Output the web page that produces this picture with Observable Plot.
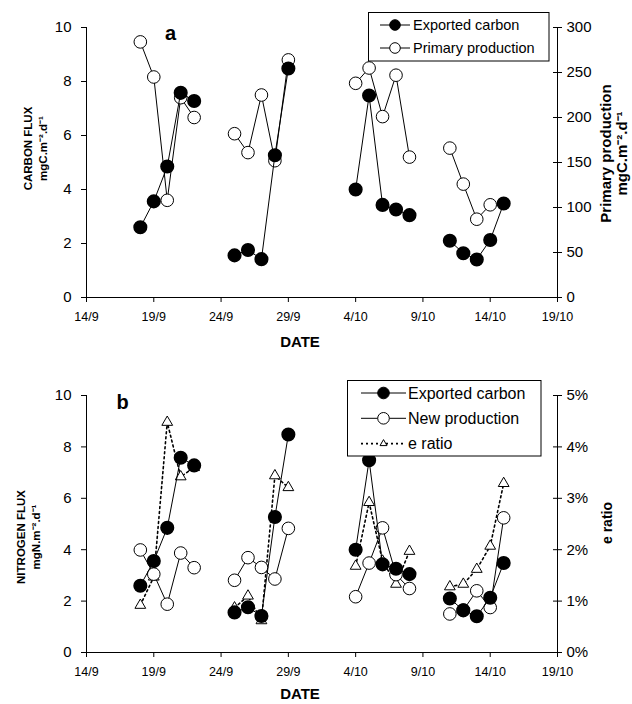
<!DOCTYPE html>
<html>
<head>
<meta charset="utf-8">
<script src="https://cdn.jsdelivr.net/npm/d3@7"></script>
<script src="https://cdn.jsdelivr.net/npm/@observablehq/plot@0.6"></script>
<style>
  body { margin: 0; background: #fff; }
  #wrap { position: relative; width: 632px; height: 704px; font-family: "Liberation Sans", Arial, sans-serif; }
  #wrap svg { display: block; }
  .legend { position: absolute; }
</style>
</head>
<body>
<div id="wrap"></div>
<script>
// ---- data ----
const dates = ["18/9","19/9","20/9","21/9","22/9","25/9","26/9","27/9","28/9","29/9","4/10","5/10","6/10","7/10","8/10","11/10","12/10","13/10","14/10","15/10"];
const cruise = [1,1,1,1,1,2,2,2,2,2,3,3,3,3,3,4,4,4,4,4];
const exportedCarbon = [2.6,3.56,4.85,7.58,7.28, 1.56,1.76,1.42,5.27,8.48, 4.0,7.48,3.43,3.26,3.05, 2.1,1.64,1.41,2.13,3.48];
const primaryProduction = [284,245,108,222,200, 182,161,225,152,264, 238,255,201,247,156, 166,126,87,103,null];
const newProduction = [3.99,3.05,1.88,3.87,3.30, 2.81,3.69,3.31,2.86,4.83, 2.17,3.48,4.85,3.03,2.49, 1.50,1.65,2.40,1.75,5.24];
const eRatio = [0.92,1.47,4.48,3.42,3.6, 0.87,1.1,0.62,3.44,3.21, 1.68,2.92,1.78,1.33,1.97, 1.28,1.33,1.62,2.07,3.29];
const xTickLabels = ["14/9","19/9","24/9","29/9","4/10","9/10","14/10","19/10"];
const fluxTicks = [0,2,4,6,8,10];
const ppTicks = [0,50,100,150,200,250,300];
const ratioTicks = [0,1,2,3,4,5];

// ---- helpers ----
const parseDM = s => { const [d, m] = s.split("/").map(Number); return new Date(Date.UTC(2000, m - 1, d)); };
const fmtDM = d => `${d.getUTCDate()}/${d.getUTCMonth() + 1}`;
const rows = dates.map((s, i) => ({
  date: parseDM(s), cruise: cruise[i], ec: exportedCarbon[i], pp: primaryProduction[i],
  np: newProduction[i], er: eRatio[i]
}));
const xTicks = xTickLabels.map(parseDM);
const xDomain = [xTicks[0], xTicks[xTicks.length - 1]];
const FONT = "'Liberation Sans', Arial, sans-serif";
const W = 632;
const mL = 86, mR = 75;
const innerW = W - mL - mR;

function frameMarks() {
  return [
    Plot.ruleX([xDomain[0]], {stroke: "black", strokeWidth: 1}),
    Plot.ruleX([xDomain[1]], {stroke: "black", strokeWidth: 1}),
    Plot.ruleY([0], {stroke: "black", strokeWidth: 1}),
    Plot.axisX({ticks: xTicks, tickFormat: fmtDM, tickSize: 5, tickPadding: 10, fontSize: 12.5, label: null}),
    Plot.axisY({anchor: "left", ticks: fluxTicks, tickSize: 5, tickPadding: 10, fontSize: 15, label: null})
  ];
}

function rightAxis(ticksInY, fmt) {
  return [
    Plot.axisY({anchor: "right", ticks: ticksInY, tickFormat: fmt, tickSize: 4, tickPadding: 5, fontSize: 15, label: null}),
    Plot.tickY(ticksInY, {y: d => d, stroke: "black", insetLeft: innerW - 4})
  ];
}

const T = (s, o) => Plot.text([s], {text: d => d, textAnchor: "middle", lineAnchor: "middle", fontWeight: "bold", ...o});

// ---- Panel a ----
const plotA = Plot.plot({
  width: W, height: 352,
  marginLeft: mL, marginRight: mR, marginTop: 27, marginBottom: 55,
  style: {fontFamily: FONT, color: "black", background: "white", overflow: "visible"},
  x: {type: "utc", domain: xDomain},
  y: {domain: [0, 10]},
  marks: [
    ...frameMarks(),
    ...rightAxis(ppTicks.map(v => v / 30), d => Math.round(d * 30)),
    Plot.line(rows, {x: "date", y: d => d.pp == null ? NaN : d.pp / 30, z: "cruise", stroke: "black", strokeWidth: 1}),
    Plot.dot(rows.filter(d => d.pp != null), {x: "date", y: d => d.pp / 30, r: 6.3, fill: "white", stroke: "black", strokeWidth: 1}),
    Plot.line(rows, {x: "date", y: "ec", z: "cruise", stroke: "black", strokeWidth: 1}),
    Plot.dot(rows, {x: "date", y: "ec", r: 6.3, fill: "black", stroke: "black"}),
    T("a", {frameAnchor: "top-left", dx: 84, dy: 6, fontSize: 20}),
    T("CARBON FLUX\nmgC.m\u207B\u00B2.d\u207B\u00B9", {frameAnchor: "left", rotate: -90, dx: -51.5, dy: -14, fontSize: 11.5, lineHeight: 1.3}),
    T("Primary production\nmgC.m\u207B\u00B2.d\u207B\u00B9", {frameAnchor: "right", rotate: -90, dx: 56, dy: -9, fontSize: 15, lineHeight: 1.1}),
    T("DATE", {frameAnchor: "bottom", dx: -22, dy: 45, fontSize: 15})
  ]
});

// ---- Panel b ----
const plotB = Plot.plot({
  width: W, height: 352,
  marginLeft: mL, marginRight: mR, marginTop: 43, marginBottom: 52,
  style: {fontFamily: FONT, color: "black", background: "white", overflow: "visible"},
  x: {type: "utc", domain: xDomain},
  y: {domain: [0, 10]},
  marks: [
    ...frameMarks(),
    ...rightAxis(ratioTicks.map(v => v * 2), d => `${Math.round(d / 2)}%`),
    Plot.line(rows, {x: "date", y: d => d.er * 2, z: "cruise", stroke: "black", strokeWidth: 1.6, strokeDasharray: "2,3"}),
    Plot.dot(rows, {x: "date", y: d => d.er * 2, symbol: "triangle", r: 4, fill: "white", stroke: "black", strokeWidth: 1}),
    Plot.line(rows, {x: "date", y: "np", z: "cruise", stroke: "black", strokeWidth: 1}),
    Plot.dot(rows, {x: "date", y: "np", r: 6.3, fill: "white", stroke: "black", strokeWidth: 1}),
    Plot.line(rows, {x: "date", y: "ec", z: "cruise", stroke: "black", strokeWidth: 1}),
    Plot.dot(rows, {x: "date", y: "ec", r: 6.3, fill: "black", stroke: "black"}),
    T("b", {frameAnchor: "top-left", dx: 36, dy: 7, fontSize: 20}),
    T("NITROGEN FLUX\nmgN.m\u207B\u00B2.d\u207B\u00B9", {frameAnchor: "left", rotate: -90, dx: -59, dy: 13, fontSize: 11.5, lineHeight: 1.35}),
    T("e ratio", {frameAnchor: "right", rotate: -90, dx: 50, dy: -1, fontSize: 14}),
    T("DATE", {frameAnchor: "bottom", dx: -22, dy: 42, fontSize: 15})
  ]
});

const wrap = document.getElementById("wrap");
wrap.appendChild(plotA);
wrap.appendChild(plotB);

// ---- legends ----
const NS = "http://www.w3.org/2000/svg";
function legend(left, top, w, h, items, opts) {
  const svg = document.createElementNS(NS, "svg");
  svg.setAttribute("class", "legend");
  svg.setAttribute("width", w + 1); svg.setAttribute("height", h + 1);
  svg.style.left = left + "px"; svg.style.top = top + "px";
  svg.style.fontFamily = FONT;
  const rect = document.createElementNS(NS, "rect");
  rect.setAttribute("x", 0.5); rect.setAttribute("y", 0.5);
  rect.setAttribute("width", w - 0.5); rect.setAttribute("height", h - 0.5);
  rect.setAttribute("fill", "white"); rect.setAttribute("stroke", "black");
  svg.appendChild(rect);
  items.forEach((it, i) => {
    const y = opts.y0 + i * opts.dy;
    const line = document.createElementNS(NS, "line");
    line.setAttribute("x1", opts.lx1); line.setAttribute("x2", opts.lx2);
    line.setAttribute("y1", y); line.setAttribute("y2", y);
    line.setAttribute("stroke", "black");
    line.setAttribute("stroke-width", it.dash ? 1.6 : 1);
    if (it.dash) line.setAttribute("stroke-dasharray", "2,3");
    svg.appendChild(line);
    const mx = (opts.lx1 + opts.lx2) / 2;
    if (it.sym === "tri") {
      const p = document.createElementNS(NS, "path");
      const r = 4;
      p.setAttribute("d", `M${mx},${y - r}L${mx + r * 0.87},${y + r * 0.5}L${mx - r * 0.87},${y + r * 0.5}Z`);
      p.setAttribute("fill", "white"); p.setAttribute("stroke", "black");
      svg.appendChild(p);
    } else {
      const c = document.createElementNS(NS, "circle");
      c.setAttribute("cx", mx); c.setAttribute("cy", y); c.setAttribute("r", opts.r);
      c.setAttribute("fill", it.sym === "filled" ? "black" : "white"); c.setAttribute("stroke", "black");
      svg.appendChild(c);
    }
    const t = document.createElementNS(NS, "text");
    t.setAttribute("x", opts.tx); t.setAttribute("y", y);
    t.setAttribute("dy", "0.35em");
    t.setAttribute("font-size", opts.fs);
    t.textContent = it.label;
    svg.appendChild(t);
  });
  wrap.appendChild(svg);
}
legend(368, 12, 181, 49, [
  {label: "Exported carbon", sym: "filled"},
  {label: "Primary production", sym: "open"}
], {y0: 13, dy: 23, lx1: 12, lx2: 42, tx: 45, fs: 14.5, r: 5.3});
legend(347, 380, 194, 76, [
  {label: "Exported carbon", sym: "filled"},
  {label: "New production", sym: "open"},
  {label: "e ratio", sym: "tri", dash: true}
], {y0: 13, dy: 25.3, lx1: 14, lx2: 59, tx: 61, fs: 16, r: 5.8});
</script>
</body>
</html>
